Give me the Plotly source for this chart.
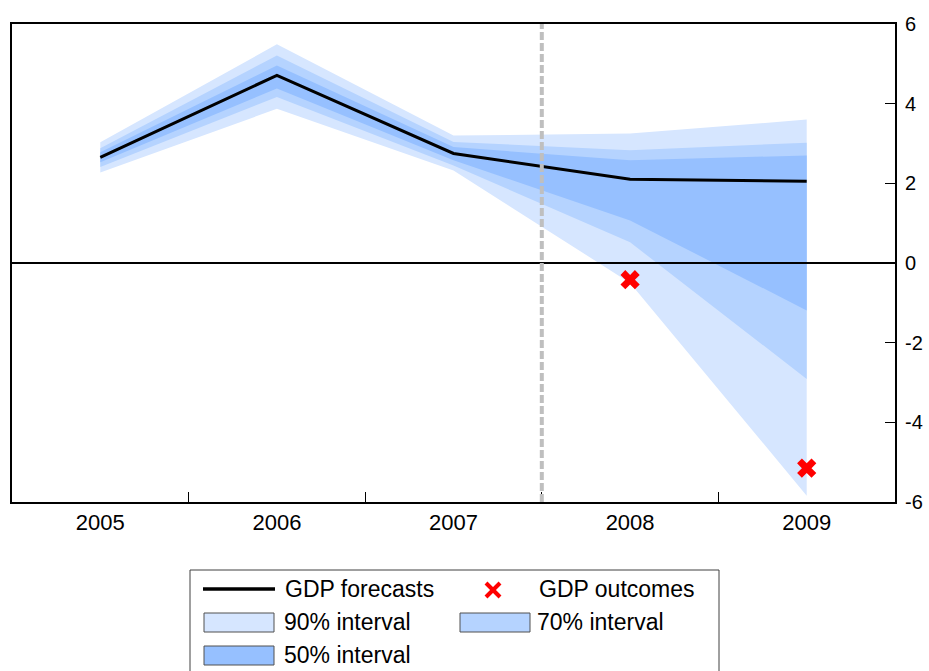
import plotly.graph_objects as go

# ---- data ----
years = ["2005", "2006", "2007", "2008", "2009"]
forecast = [2.65, 4.71, 2.75, 2.10, 2.05]
outcomes = [None, None, None, -0.42, -5.15]

lo90 = [2.27, 3.87, 2.32, -0.50, -5.84]
hi90 = [3.03, 5.49, 3.20, 3.25, 3.60]
lo70 = [2.41, 4.17, 2.45, 0.52, -2.91]
hi70 = [2.88, 5.21, 3.04, 2.83, 3.02]
lo50 = [2.53, 4.38, 2.58, 1.07, -1.19]
hi50 = [2.78, 4.96, 2.91, 2.58, 2.70]

ytick_vals = [-6, -4, -2, 0, 2, 4, 6]
ytick_text = ["-6", "-4", "-2", "0", "2", "4", "6"]

# ---- styles ----
C90 = "#D6E6FF"
C70 = "#B5D3FF"
C50 = "#96C0FF"
FONT = "Liberation Sans, Arial, sans-serif"

W, H = 929, 671
L, R, T, B = 12, 34, 24, 169
PW, PH = W - L - R, H - T - B


def px(x):
    return (x - L) / PW


def py(y):
    return (H - B - y) / PH


fig = go.Figure()

for lo, hi, col in [(lo90, hi90, C90), (lo70, hi70, C70), (lo50, hi50, C50)]:
    fig.add_trace(go.Scatter(x=years, y=lo, mode="lines", line=dict(width=0),
                             hoverinfo="skip", showlegend=False))
    fig.add_trace(go.Scatter(x=years, y=hi, mode="lines", line=dict(width=0),
                             fill="tonexty", fillcolor=col,
                             hoverinfo="skip", showlegend=False))

fig.add_trace(go.Scatter(x=years, y=forecast, mode="lines",
                         line=dict(color="black", width=3),
                         name="GDP forecasts", showlegend=False))
fig.add_trace(go.Scatter(x=years, y=outcomes, mode="markers",
                         marker=dict(symbol="x", size=17, color="#FF0000",
                                     line=dict(width=0)),
                         name="GDP outcomes", showlegend=False))

shapes = [
    # zero line
    dict(type="line", xref="paper", x0=0, x1=1, yref="y", y0=0, y1=0,
         line=dict(color="black", width=2), layer="above"),
    # forecast start divider
    dict(type="line", xref="x", x0=2.5, x1=2.5, yref="paper", y0=0, y1=1,
         line=dict(color="#BFBFBF", width=4, dash="8px,3px"), layer="above"),
]

# ---- legend drawn by hand ----
shapes.append(dict(type="rect", xref="paper", yref="paper",
                   x0=px(190), x1=px(719), y0=py(690), y1=py(570),
                   line=dict(color="#404040", width=1), fillcolor="white"))
shapes.append(dict(type="line", xref="paper", yref="paper",
                   x0=px(203), x1=px(275), y0=py(589), y1=py(589),
                   line=dict(color="black", width=3.5)))
for (x0, y0, x1, y1) in [(486, 583, 500, 597), (486, 597, 500, 583)]:
    shapes.append(dict(type="line", xref="paper", yref="paper",
                       x0=px(x0), x1=px(x1), y0=py(y0), y1=py(y1),
                       line=dict(color="#FF0000", width=4)))
for (x0, y0, col) in [(204, 613, C90), (460, 613, C70), (204, 646, C50)]:
    shapes.append(dict(type="rect", xref="paper", yref="paper",
                       x0=px(x0), x1=px(x0 + 70), y0=py(y0 + 19), y1=py(y0),
                       line=dict(color="#505050", width=1), fillcolor=col))

annotations = []
for (x, y, txt) in [(283, 589, "GDP forecasts"), (537, 589, "GDP outcomes"),
                    (282, 622, "90% interval"), (535, 622, "70% interval"),
                    (282, 655, "50% interval")]:
    annotations.append(dict(xref="paper", yref="paper", x=px(x), y=py(y),
                            xanchor="left", yanchor="middle", text=txt,
                            showarrow=False,
                            font=dict(family=FONT, size=23, color="black")))

fig.update_layout(
    width=W, height=H,
    margin=dict(l=L, r=R, t=T, b=B, pad=0, autoexpand=False),
    paper_bgcolor="white", plot_bgcolor="white",
    showlegend=False,
    shapes=shapes, annotations=annotations,
    font=dict(family=FONT, size=20, color="black"),
    xaxis=dict(type="category", range=[-0.5, 4.5], tickson="boundaries",
               ticks="inside", ticklen=10, tickwidth=1, tickcolor="black",
               showgrid=False, zeroline=False, automargin=False,
               showline=True, linecolor="black", linewidth=2, mirror=True,
               tickfont=dict(family=FONT, size=22, color="black")),
    yaxis=dict(range=[-6, 6], side="right", tickvals=ytick_vals,
               ticktext=ytick_text, ticks="inside", ticklen=10, tickwidth=1,
               tickcolor="black", showgrid=False, zeroline=False,
               automargin=False,
               showline=True, linecolor="black", linewidth=2, mirror=True,
               ticklabelstandoff=4,
               tickfont=dict(family=FONT, size=20, color="black")),
)

fig.write_html("out.html")
